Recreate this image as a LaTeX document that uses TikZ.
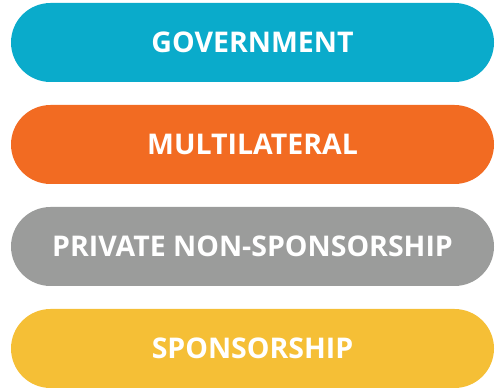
\documentclass[tikz,border=0pt]{standalone}
\usepackage{fontspec}
\setmainfont{Open Sans}
\definecolor{govblue}{HTML}{0AABCB}
\definecolor{multiorange}{HTML}{F26B22}
\definecolor{privgray}{HTML}{9B9C9B}
\definecolor{sponsyellow}{HTML}{F5BF36}
\tikzset{
  pill/.style={rounded rectangle, minimum width=483pt, minimum height=79pt,
    inner sep=0pt, text=white, font=\fontsize{28.5}{32}\selectfont\bfseries}
}
\usetikzlibrary{shapes.misc}
\begin{document}
\begin{tikzpicture}[x=1pt, y=-1pt]
            \useasboundingbox (0, 0) rectangle (496, 390);
            \node[pill, fill=govblue] (GOV) at (252.5, 42.5) {GOVERNMENT};
            \node[pill, fill=multiorange] (MULTI) at (252.5, 144.5) {MULTILATERAL};
            \node[pill, fill=privgray] (PRIV) at (252.5, 246.5) {PRIVATE NON-SPONSORSHIP};
            \node[pill, fill=sponsyellow] (SPONS) at (252.5, 348.5) {SPONSORSHIP};
        \end{tikzpicture}
\end{document}
